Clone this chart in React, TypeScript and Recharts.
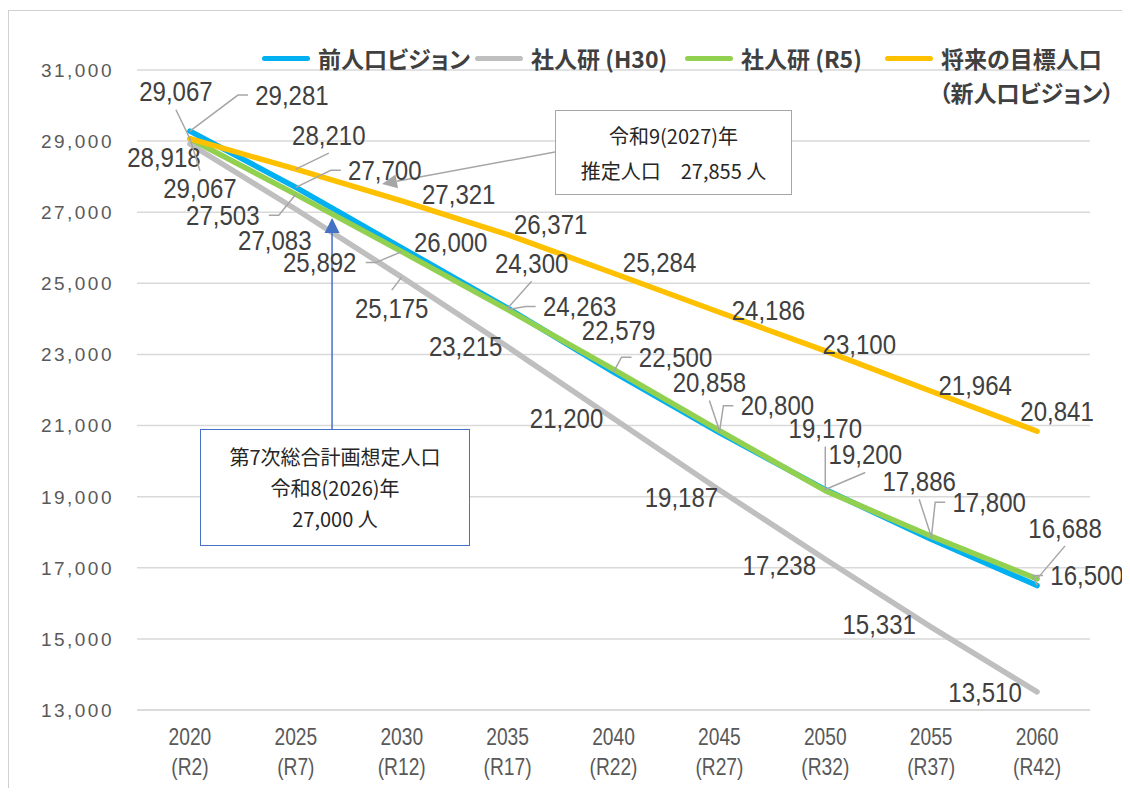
import React from 'react';
import { LineChart, Line, XAxis, YAxis, CartesianGrid, ReferenceLine } from 'recharts';

const years = [2020, 2025, 2030, 2035, 2040, 2045, 2050, 2055, 2060];
const reiwaLabels = ['(R2)', '(R7)', '(R12)', '(R17)', '(R22)', '(R27)', '(R32)', '(R37)', '(R42)'];
const yTicks = [13000, 15000, 17000, 19000, 21000, 23000, 25000, 27000, 29000, 31000];

const prevVision = [29281, 27700, 26000, 24300, 22500, 20800, 19200, 17800, 16500];
const ipssH30 = [28918, 27083, 25175, 23215, 21200, 19187, 17238, 15331, 13510];
const ipssR5 = [29067, 27503, 25892, 24263, 22579, 20858, 19170, 17886, 16688];
const targetPop = [29067, 28210, 27321, 26371, 25284, 24186, 23100, 21964, 20841];

const seriesNames = ['前人口ビジョン', '社人研 (H30)', '社人研 (R5)', '将来の目標人口\n（新人口ビジョン）'];
const seriesColors = ['#00b0f0', '#bfbfbf', '#92d050', '#ffc000'];
// legend item left edges inside the frame
const legendX = [253, 466, 676, 876];

// annotation text
const note2027 = ['令和9(2027)年', '推定人口　27,855 人'];
const note2026 = ['第7次総合計画想定人口', '令和8(2026)年', '27,000 人'];

// label placement: [dx, dy, leader] relative to point, leader L/R = elbow to side, B/T = to bottom/top
type Place = [number, number, string];
const prevPlace: Place[] = [[102, -36, 'L'], [89, -17, 'L'], [49, -6, ''], [24, -45, 'B'], [62, -15, 'L'], [58, -27, 'L'], [40, -35, 'B'], [58, -37, 'L'], [50, -10, 'L']];
const h30Place: Place[] = [[-26, 13, ''], [-21, 31, ''], [-10, 31, 'T'], [-42, -1, ''], [-47, 0, ''], [-38, 7, ''], [-46, 6, ''], [-52, -3, ''], [-52, 0, '']];
const r5Place: Place[] = [[10, 50, 'T'], [-73, 21, 'R'], [-82, 11, 'R'], [72, -3, 'L'], [5, -39, ''], [-10, -48, 'B'], [0, -62, 'B'], [-12, -55, 'B'], [28, -51, 'B']];
const targetPlace: Place[] = [[-14, -47, 'B'], [33, -34, 'B'], [57, -7, ''], [43, -10, ''], [46, -11, ''], [49, -2, ''], [34, -7, ''], [44, -6, ''], [20, -20, '']];

const data = years.map((year, i) => ({
  year,
  prev: prevVision[i],
  h30: ipssH30[i],
  r5: ipssR5[i],
  target: targetPop[i],
}));

const keys = ['prev', 'h30', 'r5', 'target'];
const places = [prevPlace, h30Place, r5Place, targetPlace];

const JP = '"Noto Sans CJK JP", "Noto Sans", sans-serif';
const NUM = '"Liberation Sans", Arial, sans-serif';
const HW = 37;

function makeLabel(place: Place[]) {
  return (props: any) => {
    const { x, y, index, value } = props;
    const p = place[index];
    if (!p || x == null) return null;
    const [dx, dy, leader] = p;
    const cx = x + dx;
    const cy = y + dy;
    let d = '';
    if (leader === 'L') {
      const ex = cx - HW - 7;
      d = `M${x},${y}L${ex - 10},${cy}L${ex},${cy}`;
    } else if (leader === 'R') {
      const ex = cx + HW + 9;
      d = `M${x},${y}L${ex + 10},${cy}L${ex},${cy}`;
    } else if (leader === 'B') {
      d = `M${x},${y}L${cx},${cy + 18}`;
    } else if (leader === 'T') {
      d = `M${x},${y}L${cx},${cy - 18}`;
    }
    return (
      <g key={`lbl-${index}`}>
        {d && <path d={d} stroke="#a6a6a6" strokeWidth={1.5} fill="none" />}
        <text
          transform={`translate(${cx},${cy}) scale(0.89,1)`}
          textAnchor="middle"
          dy="0.36em"
          fontSize={27}
          fontFamily={NUM}
          fill="#404040"
        >
          {Number(value).toLocaleString('en-US')}
        </text>
      </g>
    );
  };
}

const XTick = (props: any) => {
  const { x, y, payload } = props;
  const i = years.indexOf(payload.value);
  return (
    <g transform={`translate(${x},${y})`}>
      <text transform="scale(0.8,1)" textAnchor="middle" fill="#595959" fontSize={24} fontFamily={NUM}>
        <tspan x={0} y={35}>{payload.value}</tspan>
        <tspan x={0} y={65}>{reiwaLabels[i]}</tspan>
      </text>
    </g>
  );
};

const YTick = (props: any) => {
  const { x, y, payload } = props;
  return (
    <text x={x} y={y} dy="0.36em" textAnchor="end" fill="#595959" fontSize={19} fontFamily={NUM} letterSpacing={2.5}>
      {Number(payload.value).toLocaleString('en-US')}
    </text>
  );
};

function arrowShape(color: string, len: number, half: number) {
  return (props: any) => {
    const { x1, y1, x2, y2 } = props;
    const a = Math.atan2(y2 - y1, x2 - x1);
    const bx = x2 - len * Math.cos(a);
    const by = y2 - len * Math.sin(a);
    const px = -Math.sin(a) * half;
    const py = Math.cos(a) * half;
    return (
      <g>
        <line x1={x1} y1={y1} x2={bx} y2={by} stroke={color} strokeWidth={1.5} />
        <polygon points={`${x2},${y2} ${bx + px},${by + py} ${bx - px},${by - py}`} fill={color} />
      </g>
    );
  };
}

// arrow ends in data space (year, population)
const grayArrow = [{ x: 2037.24, y: 28694 }, { x: 2029.07, y: 27794 }];
const blueArrow = [{ x: 2026.71, y: 20903 }, { x: 2026.71, y: 26838 }];

export default function App() {
  return (
    <div
      style={{
        position: 'relative',
        top: 2,
        width: 1121,
        height: 779,
        overflow: 'hidden',
        borderLeft: '1px solid #d0d0d0',
        borderTop: '1px solid #d0d0d0',
        background: '#fff',
      }}
    >
      <LineChart width={1121} height={779} data={data} margin={{ top: 59, right: 40, left: 0, bottom: 20 }}>
        <CartesianGrid vertical={false} stroke="#d9d9d9" strokeWidth={1.5} />
        <XAxis
          dataKey="year"
          type="number"
          domain={[2017.5, 2062.5]}
          ticks={years}
          height={60}
          tickSize={0}
          tickMargin={0}
          axisLine={{ stroke: '#d9d9d9', strokeWidth: 1.5 }}
          tickLine={false}
          tick={<XTick />}
          interval={0}
        />
        <YAxis
          domain={[13000, 31000]}
          ticks={yTicks}
          width={128}
          tickSize={0}
          tickMargin={23}
          axisLine={false}
          tickLine={false}
          tick={<YTick />}
          interval={0}
        />
        {keys.map((k, i) => (
          <Line
            key={k}
            dataKey={k}
            name={seriesNames[i]}
            stroke={seriesColors[i]}
            strokeWidth={5.5}
            strokeLinecap="round"
            strokeLinejoin="round"
            dot={false}
            activeDot={false}
            isAnimationActive={false}
          />
        ))}
        <ReferenceLine segment={grayArrow} shape={arrowShape('#a6a6a6', 15, 7)} ifOverflow="visible" />
        <ReferenceLine segment={blueArrow} shape={arrowShape('#4472c4', 15, 7.5)} ifOverflow="visible" />
        {keys.map((k, i) => (
          <Line
            key={`${k}-labels`}
            dataKey={k}
            stroke="none"
            dot={false}
            activeDot={false}
            legendType="none"
            label={makeLabel(places[i])}
            isAnimationActive={false}
          />
        ))}
      </LineChart>

      {seriesNames.map((name, i) => (
        <div
          key={name}
          style={{
            position: 'absolute',
            left: legendX[i],
            top: 30,
            display: 'flex',
            alignItems: 'flex-start',
            fontFamily: JP,
            fontSize: 23,
            fontWeight: 700,
            fontFeatureSettings: '"palt"',
            color: '#404040',
            lineHeight: '34px',
            whiteSpace: 'nowrap',
          }}
        >
          <div style={{ height: 34, display: 'flex', alignItems: 'center', marginRight: 8 }}>
            <div style={{ width: 48, height: 5, borderRadius: 3, background: seriesColors[i] }} />
          </div>
          <div>
            {name.split('\n').map((t, j) => (
              <div key={j} style={j ? { marginLeft: -2 } : undefined}>{t}</div>
            ))}
          </div>
        </div>
      ))}

      <div
        style={{
          position: 'absolute',
          left: 546,
          top: 99,
          width: 237,
          height: 85,
          boxSizing: 'border-box',
          border: '1.5px solid #a6a6a6',
          background: '#fff',
          display: 'flex',
          flexDirection: 'column',
          justifyContent: 'center',
          alignItems: 'center',
          fontFamily: JP,
          fontSize: 20,
          lineHeight: '35px',
          color: '#262626',
        }}
      >
        {note2027.map((t) => (
          <div key={t}>{t}</div>
        ))}
      </div>

      <div
        style={{
          position: 'absolute',
          left: 191,
          top: 418,
          width: 270,
          height: 117,
          boxSizing: 'border-box',
          border: '1.5px solid #4472c4',
          background: '#fff',
          display: 'flex',
          flexDirection: 'column',
          justifyContent: 'center',
          alignItems: 'center',
          fontFamily: JP,
          fontSize: 20,
          lineHeight: '31px',
          color: '#262626',
        }}
      >
        {note2026.map((t) => (
          <div key={t}>{t}</div>
        ))}
      </div>
    </div>
  );
}
